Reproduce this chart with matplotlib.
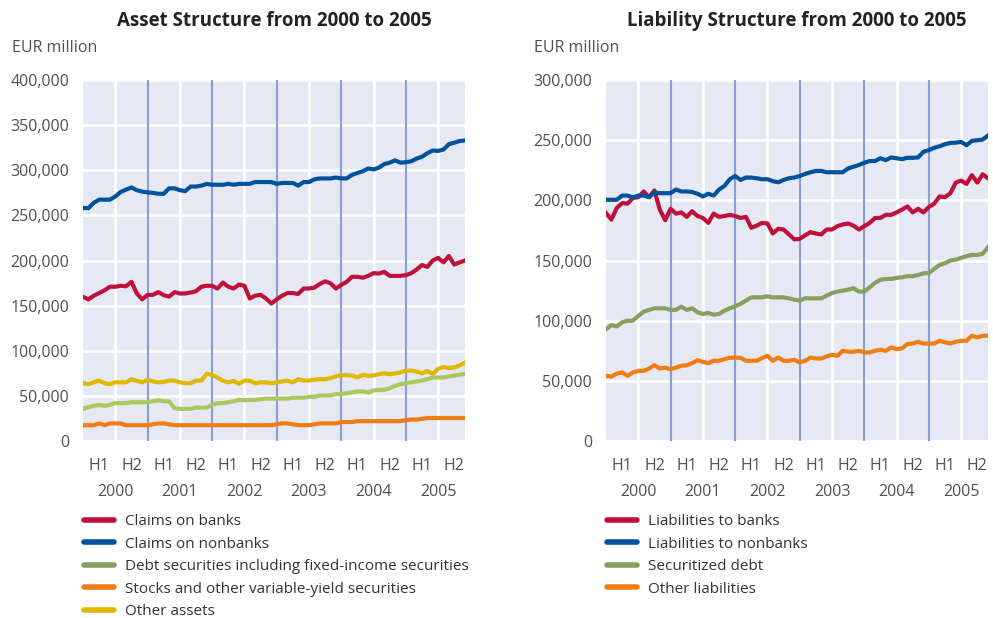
import matplotlib
matplotlib.use("Agg")
import matplotlib.pyplot as plt
import numpy as np

plt.rcParams['font.family'] = ['Open Sans', 'DejaVu Sans']

# monthly values, Jan 2000 .. Dec 2005, EUR thousand million (x1000 below)
claims_banks = [159.8, 157, 161, 164, 167, 171, 171, 172, 171.5, 176.4, 163.5, 157,
                162, 162, 165, 161.6, 160, 165, 163.5, 163.5, 164.6, 166, 171, 172,
                172, 169, 175.6, 171, 169, 173.4, 172, 158, 161, 162, 158, 152.4,
                157, 161, 164, 164, 163, 169, 169, 170, 174, 177, 174.8, 169,
                173, 176.4, 182, 182, 181, 183, 186, 185.6, 187.5, 183, 183, 183,
                183.8, 186, 190, 195, 193, 200, 203, 198, 205, 195.6, 198, 200]
claims_nonbanks = [258.3, 258, 264, 267.5, 267.5, 267.5, 271, 276, 278.6, 281, 278, 276.4,
                   275.6, 275, 274, 274, 280, 280, 278, 277, 282, 282, 283, 285,
                   284, 284, 284, 285, 284, 285, 285, 285, 287, 287, 287, 287,
                   285, 286, 286, 286, 283, 287, 287, 290, 291, 291, 291, 292,
                   291, 291, 295, 297, 299, 302, 301, 303, 307, 308.5, 311, 308.5,
                   309, 310, 313, 315, 319, 322, 321.5, 323, 329, 330.6, 332.5, 333]
debt_securities = [35.6, 37.5, 39, 40, 39, 40, 42, 42, 42, 43, 43, 43,
                   43, 44, 45, 44, 44, 36.4, 35.6, 35.6, 35.6, 37, 37, 37,
                   40, 42, 42, 43, 44, 45.6, 45, 45.6, 45.6, 46.3, 47, 47,
                   47, 47, 47, 48, 48, 48, 49, 49, 50.4, 50.4, 50.4, 52,
                   52, 53, 54, 55, 55, 53.8, 56, 56.7, 56.7, 58.6, 61, 63,
                   64, 65, 66, 67, 68.5, 70.4, 70.4, 70.4, 71.5, 72.6, 73.4, 74.5]
stocks = [17.5, 17.5, 17.5, 19.5, 17.5, 19.5, 19.5, 19.5, 17.5, 17.5, 17.5, 17.5,
          17.5, 18.5, 19.5, 19.5, 18.5, 17.5, 17.5, 17.5, 17.5, 17.5, 17.5, 17.5,
          17.5, 17.5, 17.5, 17.5, 17.5, 17.5, 17.5, 17.5, 17.5, 17.5, 17.5, 17.5,
          18.5, 19.5, 19.5, 18.5, 17.5, 17.5, 17.5, 18.5, 19.5, 19.5, 19.5, 19.5,
          21, 21, 21, 22, 22, 22, 22, 22, 22, 22, 22, 22,
          23, 23.8, 23.8, 24.5, 25.5, 25.5, 25.5, 25.5, 25.5, 25.5, 25.5, 25.5]
other_assets = [64, 63, 65, 67, 64, 63, 65, 65, 65, 68.5, 66.7, 65,
                68, 66, 65, 65.5, 67, 67, 65, 64, 64, 67, 67, 74.5,
                73.4, 70.4, 66.7, 65, 66.7, 63.4, 67, 66.7, 64, 65, 65, 64,
                65, 66, 67, 65, 68.5, 67, 67, 68, 68.5, 68.5, 69.7, 71.5,
                73, 73, 72.6, 70.4, 73.4, 72.3, 72.6, 74, 75, 74, 75, 76,
                78, 78, 77, 75, 77.4, 74.5, 80, 82, 80.8, 81.5, 83.7, 87]

liab_banks = [189.6, 184, 193.7, 197.8, 197.3, 202, 202.7, 207.4, 202.7, 208.2, 192.3, 183.5,
              193, 189, 190, 186.3, 191, 187, 185.4, 181.3, 189, 186.3, 187, 188,
              187, 185.4, 186.3, 177.2, 179, 181.3, 180.8, 172.5, 176.4, 175.8, 171.7, 167.6,
              168, 171, 173.6, 172.5, 171.7, 175.8, 175.8, 178.6, 180, 180.8, 179, 175.8,
              178.6, 181.3, 185.4, 185.4, 188, 188, 190, 192.3, 195, 190, 193, 190,
              194.5, 197.3, 203.3, 202.7, 206, 214.8, 216.5, 213.7, 221, 214.8, 221.7, 218.4]
liab_nonbanks = [200.5, 200.5, 200.5, 204, 204, 202.5, 204, 204, 202.7, 206.6, 206, 206,
                 206, 209, 207.4, 207.4, 207, 205.5, 203.3, 205.5, 204, 209, 212, 217.6,
                 220.3, 217, 219, 219, 218.4, 217.6, 217.6, 216, 215, 217, 218.4, 219,
                 220.3, 222, 223.4, 224.5, 224.5, 223.4, 223.4, 223.4, 223.4, 226.6, 228, 229.4,
                 231.3, 232.7, 232.7, 235, 233.5, 235.7, 235, 234.3, 235.4, 235.4, 235.7, 240.4,
                 241.8, 243.7, 245, 246.7, 247.8, 248, 248.6, 245.9, 249.5, 250, 250.5, 254]
securitized = [93, 96.4, 95.3, 98.6, 100, 100, 104, 107.5, 109, 110.3, 110.3, 110.3,
               109, 109, 111.7, 109, 110.3, 107, 105.6, 106.4, 105, 105.6, 108.3, 110.3,
               112, 114, 116.7, 119.4, 119.4, 119.4, 120.3, 119.4, 119.4, 119.4, 118.6, 117.5,
               116.7, 118.6, 118.6, 118.6, 118.6, 120.8, 123, 124.2, 125, 125.8, 127, 124.2,
               124.2, 127.8, 131.4, 134, 134.7, 134.7, 135.6, 136.1, 137, 137, 138, 139.4,
               139.7, 143, 146.4, 147.8, 150, 150.8, 152.2, 153.6, 154.7, 154.7, 155.6, 161]
other_liab = [54.2, 53.6, 56, 57, 54.2, 57, 58.3, 58.3, 60.3, 63, 60.3, 61,
              59.7, 61, 62.5, 63, 64.7, 67.2, 65.8, 64.7, 66.7, 66.7, 68, 69.2,
              69.2, 69.2, 66.7, 66.7, 66.7, 68.9, 70.8, 66.7, 69.4, 66.7, 66.7, 67.5,
              65.3, 66.7, 69.4, 68.6, 68.6, 70.3, 71.7, 70.8, 75, 74.2, 74.2, 75,
              73.6, 73.6, 75, 75.8, 75, 77.8, 76.4, 77, 80.6, 81, 82.5, 81,
              81, 81, 83.3, 82, 81, 82.5, 83.3, 83.3, 87.5, 86.1, 87.5, 87.5]

years = ['2000', '2001', '2002', '2003', '2004', '2005']
months = np.arange(72)

RED = '#c0103c'
BLUE = '#00529c'
LGREEN = '#a9c95e'
OLIVE = '#86a060'
ORANGE = '#ee7d14'
YELLOW = '#e0b800'
BG = '#e6e9f3'
YEARLINE = '#8a9ed0'
GRAY = '#505050'

fig = plt.figure(figsize=(9.93, 6.18), dpi=100)
ax1 = fig.add_axes([0.0836, 0.2864, 0.3847, 0.584])
ax2 = fig.add_axes([0.6103, 0.2864, 0.3847, 0.584])


def style(ax, ymax):
    ax.set_facecolor(BG)
    for s in ax.spines.values():
        s.set_visible(False)
    ax.set_xlim(0, 71)
    ax.set_ylim(0, ymax)
    ax.set_yticks(np.arange(0, ymax + 1, 50000))
    ax.yaxis.set_major_formatter(matplotlib.ticker.FuncFormatter(lambda v, p: f'{int(v):,}'))
    ax.tick_params(axis='y', length=0, pad=10, labelsize=11.5, labelcolor=GRAY)
    ax.set_xticks(np.arange(6, 72, 12))
    ax.set_xticklabels([])
    ax.tick_params(axis='x', length=0)
    ax.grid(True, color='white', lw=2)
    ax.set_axisbelow(True)
    for k in range(1, 6):
        ax.axvline(12 * k, color=YEARLINE, lw=1.5, zorder=1)
    for k, yr in enumerate(years):
        ax.text(12 * k + 3, -0.07, 'H1', transform=ax.get_xaxis_transform(),
                ha='center', va='center', fontsize=11.5, color=GRAY)
        ax.text(12 * k + 9, -0.07, 'H2', transform=ax.get_xaxis_transform(),
                ha='center', va='center', fontsize=11.5, color=GRAY)
        ax.text(12 * k + 6, -0.142, yr, transform=ax.get_xaxis_transform(),
                ha='center', va='center', fontsize=11.5, color=GRAY)


style(ax1, 400000)
style(ax2, 300000)

k = 1000
ax1.plot(months, np.array(claims_banks) * k, color=RED, lw=3, label='Claims on banks')
ax1.plot(months, np.array(claims_nonbanks) * k, color=BLUE, lw=3, label='Claims on nonbanks')
ax1.plot(months, np.array(debt_securities) * k, color=LGREEN, lw=3,
         label='Debt securities including fixed-income securities')
ax1.plot(months, np.array(stocks) * k, color=ORANGE, lw=3,
         label='Stocks and other variable-yield securities')
ax1.plot(months, np.array(other_assets) * k, color=YELLOW, lw=3, label='Other assets')

ax2.plot(months, np.array(liab_banks) * k, color=RED, lw=3, label='Liabilities to banks')
ax2.plot(months, np.array(liab_nonbanks) * k, color=BLUE, lw=3, label='Liabilities to nonbanks')
ax2.plot(months, np.array(securitized) * k, color=OLIVE, lw=3, label='Securitized debt')
ax2.plot(months, np.array(other_liab) * k, color=ORANGE, lw=3, label='Other liabilities')

for ax, x0 in ((ax1, 0.0845), (ax2, 0.6115)):
    leg = ax.legend(loc='upper left', bbox_to_anchor=(x0, 0.1685), bbox_transform=fig.transFigure,
                    frameon=False, fontsize=11, handlelength=1.95, handletextpad=0.75,
                    labelspacing=0.5, borderaxespad=0, borderpad=0)
    for t in leg.get_texts():
        t.set_color('#333333')
    for h in leg.get_lines():
        h.set_linewidth(4)
        h.set_solid_capstyle('round')
    if ax is ax1:
        # the legend swatch for debt securities is a darker olive than its line
        leg.get_lines()[2].set_color(OLIVE)

fig.text(0.276, 0.966, 'Asset Structure from 2000 to 2005', ha='center', va='center',
         fontsize=13.5, fontweight='bold', color='#222222')
fig.text(0.802, 0.966, 'Liability Structure from 2000 to 2005', ha='center', va='center',
         fontsize=13.5, fontweight='bold', color='#222222')
fig.text(0.012, 0.922, 'EUR million', ha='left', va='center', fontsize=11.5, color=GRAY)
fig.text(0.538, 0.922, 'EUR million', ha='left', va='center', fontsize=11.5, color=GRAY)

fig.savefig('out.png', dpi=100)
